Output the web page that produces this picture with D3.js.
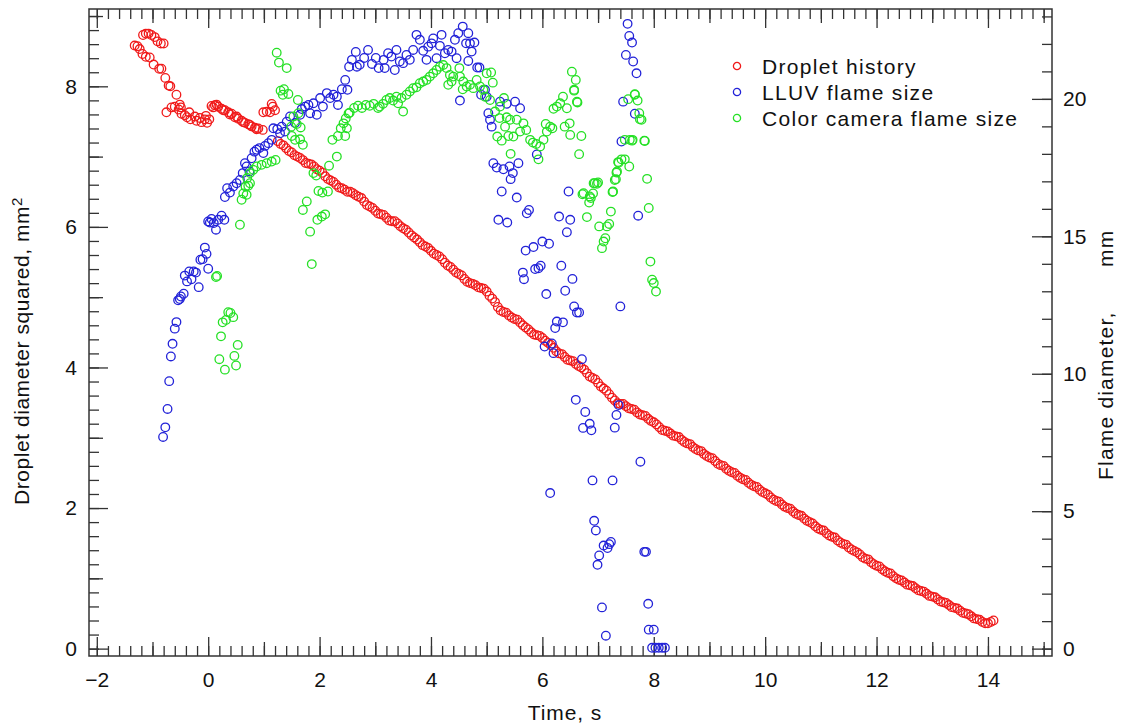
<!DOCTYPE html>
<html>
<head>
<meta charset="utf-8">
<script src="https://cdn.jsdelivr.net/npm/d3@7"></script>
<style>
  body { margin: 0; background: #fff; }
  text { font-family: "Liberation Sans", Arial, sans-serif; fill: #111; }
</style>
</head>
<body>
<div id="chart"></div>
<script>
// data: [time s, value]
// droplet diameter squared, mm^2 (left axis)
var dropletHistory = [
  [-1.32,8.58],[-1.27,8.57],[-1.23,8.53],[-1.18,8.46],[-1.12,8.42],[-1.05,8.41],[-0.98,8.31],[-0.88,8.25],
  [-0.84,8.25],[-0.77,8.12],[-0.71,8.01],[-0.68,8.00],[-0.57,7.88],[-0.51,7.74],
  [-1.17,8.73],[-1.12,8.75],[-1.07,8.75],[-1.02,8.73],[-0.96,8.70],[-0.91,8.64],[-0.85,8.61],[-0.80,8.61],
  [-0.75,7.63],[-0.66,7.70],[-0.60,7.71],[-0.53,7.67],[-0.48,7.61],[-0.49,7.70],[-0.42,7.59],[-0.38,7.56],
  [-0.34,7.63],[-0.32,7.53],[-0.24,7.57],[-0.21,7.51],[-0.15,7.55],[-0.12,7.49],[-0.06,7.53],[-0.04,7.58],
  [-0.02,7.48],[0.02,7.53],
  [0.06,7.72],[0.12,7.73],[0.18,7.71],[0.24,7.68],[0.30,7.66],[0.36,7.63],[0.42,7.61],[0.48,7.56],
  [0.54,7.54],[0.60,7.51],[0.66,7.48],[0.72,7.46],[0.78,7.43],[0.84,7.41],[0.90,7.40],[0.98,7.38],
  [0.09,7.70],[0.15,7.74],[0.27,7.66],[0.39,7.60],[0.51,7.57],[0.63,7.49],[0.75,7.45],[0.87,7.39],
  [0.99,7.63],[1.05,7.64],[1.11,7.63],[1.16,7.71],[1.20,7.66],[1.14,7.75],
  [1.25,7.22],[1.3,7.18],[1.35,7.16],[1.4,7.12],[1.45,7.08],[1.5,7.06],[1.55,7.02],[1.6,7.00],
  [1.65,6.98],[1.7,6.95],[1.75,6.91],[1.8,6.90],[1.85,6.89],[1.9,6.86],[1.95,6.82],[2.0,6.80],
  [2.05,6.77],[2.1,6.72],[2.15,6.68],[2.2,6.66],[2.25,6.64],[2.3,6.60],[2.35,6.56],[2.4,6.55],
  [2.45,6.53],[2.5,6.50],[2.55,6.50],[2.6,6.48],[2.65,6.45],[2.7,6.43],[2.75,6.41],[2.8,6.36],
  [2.85,6.31],[2.9,6.29],[2.95,6.27],[3.0,6.23],[3.05,6.19],[3.1,6.18],[3.15,6.17],[3.2,6.13],
  [3.25,6.09],[3.3,6.08],[3.35,6.08],[3.4,6.05],[3.45,6.01],[3.5,5.98],[3.55,5.96],[3.6,5.92],
  [3.65,5.88],[3.7,5.85],[3.75,5.82],[3.8,5.78],[3.85,5.74],[3.9,5.72],[3.95,5.70],[4.0,5.66],
  [4.05,5.62],[4.1,5.60],[4.15,5.58],[4.2,5.54],[4.25,5.49],[4.3,5.45],[4.35,5.43],[4.4,5.39],
  [4.45,5.35],[4.5,5.33],[4.55,5.31],[4.6,5.26],[4.65,5.22],[4.7,5.20],[4.75,5.19],[4.8,5.17],
  [4.85,5.14],[4.9,5.13],[4.95,5.12],[5.0,5.08],[5.05,5.02],[5.1,4.98],[5.15,4.93],[5.2,4.86],
  [5.25,4.81],[5.3,4.79],[5.35,4.78],[5.4,4.74],[5.45,4.71],[5.5,4.69],[5.55,4.68],[5.6,4.64],
  [5.65,4.60],[5.7,4.57],[5.75,4.54],[5.8,4.50],[5.85,4.47],[5.9,4.46],[5.95,4.45],[6.0,4.42],
  [6.05,4.38],[6.1,4.35],[6.15,4.32],[6.2,4.28],[6.25,4.23],[6.3,4.20],[6.35,4.19],[6.4,4.15],
  [6.45,4.11],[6.5,4.10],[6.55,4.09],[6.6,4.05],[6.65,4.02],[6.7,4.00],[6.75,3.97],[6.8,3.92],
  [6.85,3.87],[6.9,3.85],[6.95,3.83],[7.0,3.78],[7.05,3.73],[7.1,3.70],[7.15,3.67],[7.2,3.62],
  [7.25,3.57],[7.3,3.53],[7.35,3.49],[7.4,3.48],[7.45,3.48],[7.5,3.45],[7.55,3.42],[7.6,3.41],
  [7.65,3.40],[7.7,3.36],[7.75,3.33],[7.8,3.32],[7.85,3.31],[7.9,3.27],[7.95,3.24],[8.0,3.22],
  [8.05,3.19],[8.1,3.15],[8.15,3.11],[8.2,3.10],[8.25,3.09],[8.3,3.06],[8.35,3.03],[8.4,3.02],
  [8.45,3.01],[8.5,2.97],[8.55,2.94],[8.6,2.92],[8.65,2.91],[8.7,2.87],[8.75,2.84],[8.8,2.82],
  [8.85,2.81],[8.9,2.77],[8.95,2.74],[9.0,2.72],[9.05,2.71],[9.1,2.67],[9.15,2.63],[9.2,2.61],
  [9.25,2.60],[9.3,2.56],[9.35,2.53],[9.4,2.51],[9.45,2.50],[9.5,2.46],[9.55,2.43],[9.6,2.41],
  [9.65,2.40],[9.7,2.36],[9.75,2.33],[9.8,2.31],[9.85,2.30],[9.9,2.26],[9.95,2.23],[10.0,2.21],
  [10.05,2.19],[10.1,2.15],[10.15,2.12],[10.2,2.10],[10.25,2.09],[10.3,2.05],[10.35,2.02],[10.4,2.00],
  [10.45,1.99],[10.5,1.95],[10.55,1.92],[10.6,1.90],[10.65,1.89],[10.7,1.85],[10.75,1.82],[10.8,1.80],
  [10.85,1.78],[10.9,1.74],[10.95,1.71],[11.0,1.69],[11.05,1.68],[11.1,1.64],[11.15,1.61],[11.2,1.59],
  [11.25,1.58],[11.3,1.54],[11.35,1.51],[11.4,1.49],[11.45,1.48],[11.5,1.44],[11.55,1.41],[11.6,1.39],
  [11.65,1.37],[11.7,1.34],[11.75,1.30],[11.8,1.28],[11.85,1.27],[11.9,1.23],[11.95,1.20],[12.0,1.18],
  [12.05,1.17],[12.1,1.13],[12.15,1.10],[12.2,1.08],[12.25,1.07],[12.3,1.03],[12.35,1.00],[12.4,0.98],
  [12.45,0.97],[12.5,0.94],[12.55,0.91],[12.6,0.90],[12.65,0.89],[12.7,0.86],[12.75,0.83],[12.8,0.82],
  [12.85,0.81],[12.9,0.78],[12.95,0.75],[13.0,0.74],[13.05,0.73],[13.1,0.70],[13.15,0.67],[13.2,0.66],
  [13.25,0.65],[13.3,0.62],[13.35,0.59],[13.4,0.58],[13.45,0.57],[13.5,0.54],[13.55,0.51],[13.6,0.50],
  [13.65,0.49],[13.7,0.46],[13.75,0.43],[13.8,0.42],[13.85,0.41],[13.9,0.38],[13.95,0.36],
  [14.0,0.36],[14.05,0.38],[14.1,0.40]
];

// LLUV flame diameter, mm (right axis)
var lluvFlame = [
  [-0.81,7.70],[-0.77,8.05],[-0.73,8.72],[-0.70,9.73],[-0.67,10.63],[-0.64,11.09],[-0.60,11.64],[-0.57,11.88],
  [-0.54,12.67],[-0.51,12.72],[-0.49,12.81],[-0.44,12.91],[-0.42,13.57],[-0.38,13.36],[-0.34,13.72],[-0.30,13.44],
  [-0.26,13.72],[-0.22,13.68],[-0.17,13.15],[-0.14,14.15],[-0.10,14.17],[-0.06,14.59],[-0.03,14.36],[0.00,13.82],
  [0.00,15.54],[0.03,15.50],[0.06,15.63],[0.10,15.48],[0.14,15.24],[0.18,15.60],[0.24,15.75],[0.29,15.60],
  [0.30,16.43],[0.34,16.75],[0.39,16.59],[0.45,16.81],[0.51,16.93],[0.57,17.05],[0.62,17.30],[0.66,17.66],
  [0.69,17.54],[0.74,17.36],[0.78,17.84],[0.83,18.08],[0.87,18.15],[0.92,18.21],[0.99,18.03],[1.02,18.29],
  [1.08,18.39],[1.14,18.51],[1.17,18.93],[1.24,18.90],[1.29,18.75],[1.32,18.99],[1.38,18.81],[1.41,19.17],
  [1.47,19.36],[1.56,19.12],[1.65,19.42],[1.68,19.63],[1.74,19.72],[1.80,19.78],[1.83,19.48],[1.89,19.84],
  [1.95,19.42],[2.01,20.03],[2.06,19.72],[2.13,20.21],[2.19,20.03],[2.25,20.15],[2.31,20.08],[2.33,19.78],
  [2.40,20.35],[2.46,20.69],[2.50,20.33],[2.53,21.17],[2.58,21.42],[2.65,21.71],[2.67,21.17],[2.72,21.24],
  [2.80,21.49],[2.87,21.78],[2.94,21.27],[3.01,21.49],[3.06,21.12],[3.15,21.42],[3.17,21.12],[3.23,21.66],
  [3.29,21.54],[3.35,21.05],[3.38,21.78],[3.44,21.36],[3.50,21.30],[3.56,21.60],[3.62,21.42],[3.68,21.78],
  [3.74,22.33],[3.80,22.15],[3.86,21.75],[3.92,21.42],[3.95,21.90],[4.01,22.02],[4.04,22.20],[4.10,21.48],
  [4.16,21.93],[4.19,22.33],[4.25,21.66],[4.31,21.78],[4.37,21.72],[4.43,22.15],[4.46,21.48],[4.49,22.39],
  [4.57,22.63],[4.63,22.02],[4.67,22.39],[4.70,22.02],[4.73,21.72],[4.78,22.05],[4.67,21.38],[4.52,19.94],
  [4.83,21.14],[4.87,21.14],[4.90,20.15],[4.97,20.33],[5.00,20.08],[5.03,19.48],[5.06,19.24],[5.09,18.99],
  [5.24,19.90],[5.36,19.82],[5.51,19.90],[5.60,19.66],[5.12,17.66],[5.18,17.50],[5.30,17.44],[5.41,17.54],
  [5.47,17.30],[5.43,17.08],[5.57,17.66],[5.90,17.98],[5.27,16.63],[5.54,16.41],[5.72,15.84],[5.76,15.96],
  [5.21,15.60],[5.37,15.50],[6.47,16.63],[6.30,15.72],[6.50,15.60],[6.44,15.15],[5.70,14.48],[5.84,14.61],
  [6.00,14.81],[6.12,14.73],[5.65,13.68],[5.67,13.44],[5.87,13.81],[5.93,13.84],[5.97,13.93],[6.34,13.93],
  [6.54,13.45],[6.07,12.90],[6.41,13.02],[6.57,12.45],[6.62,12.23],[6.66,12.23],[7.40,12.45],[6.26,11.90],
  [6.23,11.66],[6.37,11.87],[6.04,10.99],[6.17,11.10],[6.20,10.75],[6.71,10.53],[6.60,9.05],[6.77,8.61],
  [6.73,8.03],[6.85,8.18],[6.88,7.94],[7.37,8.86],[7.33,8.50],[7.30,8.04],[7.76,6.80],[6.14,5.66],
  [6.90,6.12],[7.26,6.12],[6.93,4.65],[6.96,4.30],[7.10,3.75],[7.17,3.66],[7.20,3.80],[7.23,3.88],
  [7.02,3.39],[6.99,3.05],[7.83,3.52],[7.86,3.52],[7.07,1.50],[7.14,0.47],[7.90,1.63],[7.91,0.69],
  [8.00,0.69],[7.97,0.03],[8.03,0.03],[8.09,0.03],[8.15,0.03],[8.20,0.03],
  [7.53,22.73],[7.56,22.29],[7.61,22.05],[7.50,21.60],[7.63,21.36],[7.69,20.93],[7.45,19.90],[7.66,19.46],
  [7.42,18.45],[7.72,15.75]
];

// color camera flame diameter, mm (right axis)
var cameraFlame = [
  [0.20,10.53],[0.30,10.15],[0.50,10.30],[0.47,10.65],[0.53,11.05],[0.23,11.36],[0.26,11.87],[0.32,11.96],
  [0.36,12.24],[0.40,12.21],[0.45,12.06],[0.14,13.52],[0.16,13.56],[0.57,15.42],[0.60,16.33],[0.63,16.56],
  [0.67,16.81],[0.70,17.12],[0.75,17.30],[0.81,17.42],[0.87,17.54],[0.96,17.60],[1.05,17.66],[1.14,17.72],
  [1.21,17.78],[0.69,16.51],[0.72,16.84],[0.75,16.93],
  [1.23,21.68],[1.27,21.32],[1.41,21.12],[1.30,20.30],[1.36,20.35],[1.34,20.15],[1.44,20.18],[1.61,19.96],
  [1.53,19.36],[1.49,18.99],[1.59,19.09],[1.66,18.96],[1.50,18.65],[1.56,18.51],[1.65,18.53],[1.62,19.48],
  [1.70,18.33],[1.89,17.30],[1.94,17.21],[1.98,16.65],[2.05,16.59],[2.15,16.63],[1.77,16.27],[1.70,15.96],
  [1.96,15.60],[2.04,15.72],[2.10,15.80],[1.83,15.17],[1.86,13.99],[2.31,17.90],[2.17,17.57],[2.23,18.51],
  [2.33,18.65],[2.38,18.93],[2.43,19.11],[2.47,19.29],[2.52,19.47],[2.46,18.65],[2.49,18.93],
  [2.54,19.50],[2.62,19.67],[2.69,19.75],[2.76,19.67],[2.83,19.78],[2.90,19.75],[2.97,19.82],[3.05,19.67],
  [3.08,19.72],[3.14,19.82],[3.20,19.96],[3.26,20.03],[3.32,19.94],[3.38,20.08],[3.41,19.84],[3.50,19.54],
  [3.47,20.03],[3.56,20.15],[3.62,20.27],[3.68,20.39],[3.74,20.42],[3.80,20.57],[3.86,20.63],[3.92,20.69],
  [3.98,20.81],[4.04,20.93],[4.10,21.05],[4.16,21.17],[4.22,21.23],[4.28,21.12],[4.34,20.87],[4.40,20.81],
  [4.31,20.51],[4.37,20.63],[4.51,21.12],[4.52,20.81],[4.58,20.63],[4.57,20.35],[4.64,20.45],[4.70,20.51],
  [4.76,20.39],[4.82,20.69],[4.88,20.45],[4.94,20.33],[5.00,20.93],[5.08,20.96],[5.11,20.59],[4.97,20.08],
  [5.06,19.96],[5.15,19.54],[5.24,19.72],[5.31,20.03],[5.23,19.30],[5.33,18.99],[5.36,19.33],[5.42,19.24],
  [5.19,18.63],[5.27,18.48],[5.39,18.65],[5.48,18.63],[5.54,19.24],[5.60,18.81],[5.66,19.11],[5.71,18.87],
  [5.78,18.51],[5.83,18.41],[5.89,18.36],[5.96,18.27],[5.93,17.80],[6.02,18.51],[6.08,18.81],[6.14,18.99],
  [6.06,19.09],[6.18,18.93],[6.20,19.64],[6.26,19.72],[6.32,19.84],[6.37,20.08],[6.44,19.66],[6.40,18.99],
  [6.49,19.11],[6.50,18.69],[6.53,20.99],[6.60,20.69],[6.57,20.30],[6.63,19.87],[6.70,18.65],[6.66,17.99],
  [5.43,18.00],[6.74,16.57],[6.85,16.45],[6.92,16.93],[6.98,16.91],[7.26,16.61],[7.30,17.05],[7.33,17.32],
  [7.36,17.70],[7.42,17.80],[7.48,17.80],[7.56,17.54],[7.48,18.51],[7.61,18.48],[7.66,20.17],[7.54,19.99],
  [7.71,19.94],[7.74,19.48],[7.78,19.24],[7.84,18.47],[7.88,17.09],[7.91,16.03],[7.94,14.08],[7.97,13.42],
  [8.00,13.30],[8.04,12.99],[7.07,14.57],[7.10,14.81],[7.13,14.93],[7.16,15.36],[7.20,15.45],[7.02,15.36],
  [6.80,15.70],[7.23,15.90],[7.27,16.63],[6.84,16.23],[6.87,16.39],[6.72,16.53],[6.91,16.56],[6.94,16.93],
  [7.00,16.96],[7.32,17.08],[7.34,17.36],[7.37,17.68],[7.57,18.51],[7.62,18.51],[7.83,18.48],[7.66,20.15],
  [7.75,19.26],[6.62,19.90],[6.57,20.33]
];

var xTicks = [-2, 0, 2, 4, 6, 8, 10, 12, 14];
var leftTicks = [0, 2, 4, 6, 8];
var rightTicks = [0, 5, 10, 15, 20];
var legendNames = ["Droplet history", "LLUV flame size", "Color camera flame size"];
var seriesColors = ["#f01a1a", "#2222d8", "#25e025"];

var width = 1124, height = 726;
var pL = 89, pR = 1052, pT = 9, pB = 656;

var svg = d3.select("#chart").append("svg")
    .attr("width", width)
    .attr("height", height);

var x = d3.scaleLinear().domain([-2.14, 15.15]).range([pL, pR]);
var yL = d3.scaleLinear().domain([-0.105, 9.1]).range([pB, pT]);
var yR = d3.scaleLinear().domain([-0.2685, 23.27]).range([pB, pT]);

// tick helper: minor / medium / major sets drawn as separate axes
function ticks(axisFn, scale, pos, values, len, labels, pad) {
  var ax = axisFn(scale).tickValues(values).tickSize(-len).tickSizeOuter(0);
  if (labels) ax.tickPadding(pad).tickFormat(d3.format("d"));
  else ax.tickFormat("");
  var g = svg.append("g").attr("transform", pos).call(ax);
  g.select(".domain").remove();
  g.selectAll(".tick line").attr("stroke", "#333").attr("stroke-width", 1.3);
  g.selectAll("text").style("font-size", "21px").attr("fill", "#111");
  return g;
}

var xMinor = d3.range(-20, 151, 2).map(function(d) { return d / 10; });
var xMed = d3.range(-1, 16, 2);
var yMinor = d3.range(0, 91, 2).map(function(d) { return d / 10; });
var yMed = [1, 3, 5, 7, 9];
var rMinor = d3.range(0, 24);

// bottom + top
ticks(d3.axisBottom, x, "translate(0," + pB + ")", xMinor, 10, false);
ticks(d3.axisBottom, x, "translate(0," + pB + ")", xMed, 14, false);
ticks(d3.axisBottom, x, "translate(0," + pB + ")", xTicks, 19, true, 16);
ticks(d3.axisTop, x, "translate(0," + pT + ")", xMinor, 10, false);
ticks(d3.axisTop, x, "translate(0," + pT + ")", xMed, 14, false);
ticks(d3.axisTop, x, "translate(0," + pT + ")", xTicks, 19, false);
// left
ticks(d3.axisLeft, yL, "translate(" + pL + ",0)", yMinor, 10, false);
ticks(d3.axisLeft, yL, "translate(" + pL + ",0)", yMed, 14, false);
ticks(d3.axisLeft, yL, "translate(" + pL + ",0)", leftTicks, 19, true, 12);
// right
ticks(d3.axisRight, yR, "translate(" + pR + ",0)", rMinor, 10, false);
ticks(d3.axisRight, yR, "translate(" + pR + ",0)", rightTicks, 20, true, 11);

svg.append("rect")
    .attr("x", pL).attr("y", pT)
    .attr("width", pR - pL).attr("height", pB - pT)
    .attr("fill", "none").attr("stroke", "#333").attr("stroke-width", 1.5);

// points
function plotSeries(data, yScale, color) {
  svg.append("g").selectAll("circle")
    .data(data)
    .enter().append("circle")
    .attr("cx", function(d) { return x(d[0]); })
    .attr("cy", function(d) { return yScale(d[1]); })
    .attr("r", 4.3)
    .attr("fill", "none")
    .attr("stroke", color)
    .attr("stroke-width", 1.3);
}
plotSeries(dropletHistory, yL, seriesColors[0]);
plotSeries(lluvFlame, yR, seriesColors[1]);
plotSeries(cameraFlame, yR, seriesColors[2]);

// legend
var leg = svg.append("g").attr("transform", "translate(737,66)");
legendNames.forEach(function(name, i) {
  leg.append("circle").attr("cx", 0).attr("cy", i * 26).attr("r", 3.6)
    .attr("fill", "none").attr("stroke", seriesColors[i]).attr("stroke-width", 1.3);
  leg.append("text").attr("x", 25).attr("y", i * 26).attr("dy", "0.36em")
    .style("font-size", "21px").style("letter-spacing", "1.3px").text(name);
});

// axis titles
svg.append("text")
    .attr("x", 565).attr("y", 720)
    .attr("text-anchor", "middle").style("font-size", "21px")
    .style("letter-spacing", "0.9px")
    .text("Time, s");

var yt = svg.append("text")
    .attr("transform", "translate(29,505) rotate(-90)")
    .style("font-size", "21px").style("letter-spacing", "0.55px");
yt.append("tspan").text("Droplet diameter squared, mm");
yt.append("tspan").attr("dy", "-7").style("font-size", "15px").text("2");

var rt = svg.append("text")
    .attr("transform", "translate(1113,480) rotate(-90)")
    .style("font-size", "21px").style("letter-spacing", "1.2px");
rt.append("tspan").text("Flame diameter,");
rt.append("tspan").attr("x", 213).text("mm");
</script>
</body>
</html>
